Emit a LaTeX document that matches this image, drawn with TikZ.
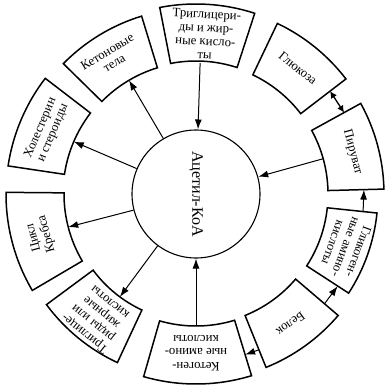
\documentclass[tikz,border=0pt]{standalone}
\usepackage{fontspec}
\setmainfont{Liberation Serif}
\usetikzlibrary{arrows.meta}
\newcommand\annsec[4]{\draw[box] (#1:#3) arc[start angle=#1,end angle=#2,radius=#3] -- (#2:#4) arc[start angle=#2,end angle=#1,radius=#4] -- cycle;}
\begin{document}
\begin{tikzpicture}[x=1pt,y=1pt,
  box/.style={line width=1.5pt},
  lbl/.style={align=center, font=\fontsize{12.8}{13.5}\selectfont, inner sep=0pt},
  arr/.style={line width=1pt, -{Latex[length=10pt,width=7pt]}},
  darr/.style={line width=1.3pt, {Latex[length=7pt,width=7pt]}-{Latex[length=7pt,width=7pt]}}]
\useasboundingbox (-196,-192) rectangle (194,194);
\node[circle,draw,line width=1.1pt,minimum size=128pt,inner sep=0pt,rotate=-90,font=\fontsize{16}{18}\selectfont] (acoa) at (0,0) {Ацетил-КоА};
\annsec{72}{101}{133}{190}
\node[lbl,rotate=-3] (tri1) at (86.5:160) {Триглицери-\\ды и жир-\\ные кисло-\\ты};
\annsec{107}{135.5}{132}{186}
\node[lbl,rotate=31] (keto) at (122:161) {Кетоновые\\тела};
\annsec{142.5}{171.5}{133}{190}
\node[lbl,rotate=67] (chol) at (157:162) {Холестерин\\и стероиды};
\annsec{179.5}{210.5}{132}{190}
\node[lbl,rotate=105] (krebs) at (195:161) {Цикл\\Кребса};
\annsec{216.5}{245}{128}{186}
\node[lbl,rotate=141] (tri2) at (231.5:159) {Триглице-\\риды или\\жирные\\кислоты};
\annsec{254}{287}{132}{190}
\node[lbl,rotate=180] (ketog) at (270:159) {Кетоген-\\ные амино-\\кислоты};
\annsec{292}{319.5}{131}{187}
\node[lbl,rotate=216] (prot) at (306:161) {Белок};
\annsec{327}{354}{132}{182}
\node[lbl,rotate=250] (glyco) at (340.5:159) {Гликоген-\\ные амино-\\кислоты};
\annsec{1.5}{28.8}{132}{188}
\node[lbl,rotate=-75] (pyr) at (15:162) {Пируват};
\annsec{37.5}{64.5}{132}{189}
\node[lbl,rotate=-39] (gluc) at (51:162) {Глюкоза};
\coordinate (pA) at (15.5:132);
\coordinate (tA) at (88.2:131);
\coordinate (kA) at (120.5:132);
\coordinate (cA) at (156.8:133);
\coordinate (krA) at (194.5:132);
\coordinate (t2A) at (233.5:128);
\coordinate (kgA) at (270:132);
\coordinate (g1) at (-6:168);
\coordinate (p1) at (1.5:168);
\coordinate (b1) at (-40.5:169);
\coordinate (g2) at (-33:169);
\coordinate (b2) at (-68:168);
\coordinate (kg2) at (-73:168);
\coordinate (gl1) at (37.5:169);
\coordinate (p2) at (28.8:169);
\draw[arr] (pA) -- (acoa);
\draw[arr] (tA) -- (acoa);
\draw[arr] (kgA) -- (acoa);
\draw[arr] (acoa) -- (kA);
\draw[arr] (acoa) -- (cA);
\draw[arr] (acoa) -- (krA);
\draw[arr] (acoa) -- (t2A);
\draw[arr] (g1) -- (p1);
\draw[arr] (b1) -- (g2);
\draw[arr] (b2) -- (kg2);
\draw[darr] (gl1) -- (p2);
\end{tikzpicture}
\end{document}
